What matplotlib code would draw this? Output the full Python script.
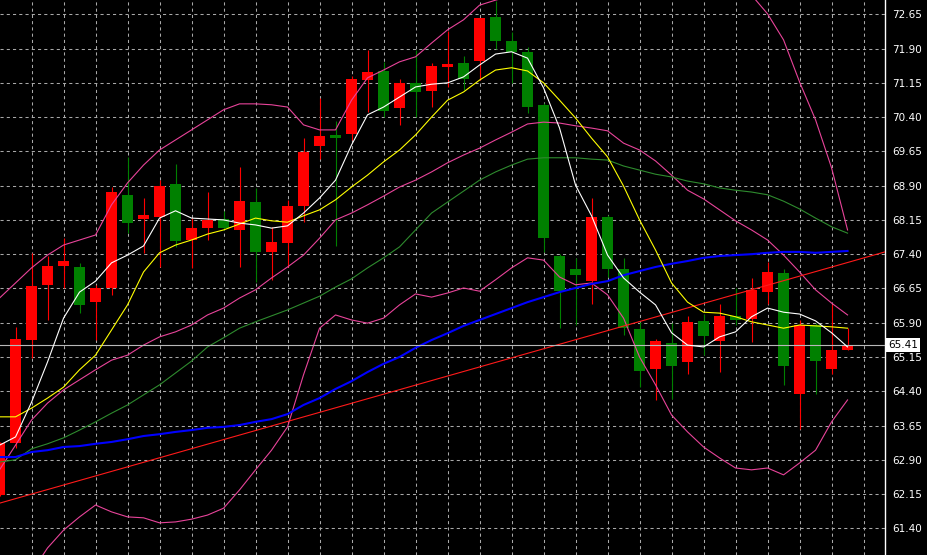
import numpy as np
import matplotlib
matplotlib.use("Agg")
import matplotlib.pyplot as plt

# Mum verileri (acilis, yuksek, dusuk, kapanis)
acilis = [62.13, 63.27, 65.53, 66.73, 67.14, 67.13, 66.36, 66.65, 68.70, 68.16,
          68.22, 68.94, 67.71, 67.98, 68.17, 67.94, 68.55, 67.45, 67.64, 68.46,
          69.77, 70.01, 70.02, 71.21, 71.42, 70.61, 71.14, 70.97, 71.49, 71.59,
          71.63, 72.60, 72.07, 71.83, 70.66, 67.36, 67.07, 66.81, 68.21, 67.07,
          65.76, 64.89, 65.45, 65.03, 65.94, 65.51, 66.05, 65.98, 66.58, 66.99,
          64.35, 65.85, 64.89, 65.30]
yuksek = [63.30, 65.81, 67.43, 67.35, 67.75, 67.20, 66.72, 68.88, 69.53, 68.64,
          69.02, 69.37, 68.19, 68.75, 68.35, 69.31, 68.84, 68.00, 68.59, 69.94,
          70.82, 70.31, 71.30, 71.87, 71.61, 71.23, 71.87, 71.58, 72.28, 71.74,
          72.56, 72.95, 72.27, 71.94, 70.70, 67.40, 67.31, 68.62, 68.25, 67.32,
          65.92, 65.54, 65.89, 66.05, 66.08, 66.32, 66.65, 66.87, 67.23, 67.07,
          65.96, 65.89, 66.32, 65.78]
dusuk = [62.10, 63.16, 65.12, 65.96, 66.66, 66.11, 65.52, 66.51, 67.86, 67.42,
         67.13, 67.56, 67.09, 67.71, 67.93, 67.13, 66.80, 66.83, 67.13, 68.11,
         69.48, 67.58, 69.90, 70.52, 70.41, 70.23, 70.40, 70.63, 71.05, 70.99,
         71.21, 71.88, 71.14, 70.48, 67.45, 65.78, 65.86, 66.32, 66.90, 65.63,
         64.50, 64.21, 64.23, 64.77, 65.19, 64.83, 65.85, 65.48, 66.32, 64.54,
         63.57, 64.35, 64.77, 65.30]
kapanis = [63.26, 65.54, 66.70, 67.15, 67.25, 66.29, 66.65, 68.75, 68.09, 68.26,
           68.89, 67.69, 67.97, 68.15, 67.98, 68.57, 67.45, 67.67, 68.46, 69.63,
           69.99, 69.95, 71.23, 71.39, 70.53, 71.15, 70.96, 71.52, 71.56, 71.23,
           72.56, 72.07, 71.82, 70.63, 67.76, 66.60, 66.94, 68.21, 67.07, 65.78,
           64.85, 65.50, 64.96, 65.91, 65.62, 66.05, 65.96, 66.62, 67.01, 64.96,
           65.85, 65.06, 65.30, 65.41]

# Hareketli ortalamalar
ma_beyaz = [63.22, 63.40, 64.16, 65.04, 66.00, 66.57, 66.81, 67.21, 67.38, 67.58,
            68.19, 68.35, 68.19, 68.17, 68.15, 68.08, 68.04, 67.97, 68.02, 68.30,
            68.63, 69.02, 69.79, 70.45, 70.62, 70.84, 71.06, 71.12, 71.15, 71.28,
            71.54, 71.78, 71.83, 71.69, 71.04, 70.16, 68.91, 68.24, 67.38, 66.88,
            66.57, 66.29, 65.68, 65.41, 65.37, 65.59, 65.70, 66.03, 66.22, 66.13,
            66.09, 65.94, 65.68, 65.37]
ma_sari = [63.84, 63.84, 64.03, 64.25, 64.49, 64.87, 65.19, 65.74, 66.29, 67.01,
           67.43, 67.60, 67.71, 67.84, 67.93, 68.06, 68.19, 68.13, 68.10, 68.24,
           68.37, 68.59, 68.87, 69.13, 69.42, 69.68, 70.01, 70.40, 70.77, 70.95,
           71.21, 71.43, 71.48, 71.41, 71.15, 70.77, 70.38, 69.94, 69.53, 68.89,
           68.15, 67.49, 66.77, 66.35, 66.13, 66.11, 66.03, 65.92, 65.85, 65.78,
           65.85, 65.83, 65.81, 65.78]
ma_yesil = [62.85, 62.90, 63.14, 63.25, 63.38, 63.55, 63.73, 63.92, 64.10, 64.32,
            64.54, 64.80, 65.06, 65.37, 65.57, 65.78, 65.92, 66.05, 66.18, 66.33,
            66.48, 66.68, 66.86, 67.10, 67.32, 67.56, 67.93, 68.30, 68.54, 68.78,
            69.02, 69.20, 69.35, 69.48, 69.51, 69.51, 69.51, 69.48, 69.46, 69.33,
            69.24, 69.15, 69.09, 69.00, 68.94, 68.85, 68.80, 68.76, 68.70, 68.56,
            68.39, 68.19, 68.00, 67.86]
ma_mavi = [62.96, 62.96, 63.07, 63.11, 63.18, 63.20, 63.25, 63.29, 63.35, 63.42,
           63.46, 63.51, 63.55, 63.60, 63.62, 63.66, 63.73, 63.79, 63.90, 64.10,
           64.25, 64.45, 64.62, 64.82, 65.00, 65.15, 65.35, 65.52, 65.67, 65.83,
           65.96, 66.09, 66.22, 66.35, 66.46, 66.57, 66.66, 66.75, 66.81, 66.94,
           67.03, 67.12, 67.19, 67.25, 67.32, 67.36, 67.38, 67.40, 67.43, 67.45,
           67.45, 67.43, 67.45, 67.47]

# Bollinger bantlari
bb_ust = [66.44, 66.77, 67.10, 67.38, 67.60, 67.71, 67.82, 68.48, 68.96, 69.35,
          69.68, 69.90, 70.12, 70.34, 70.56, 70.69, 70.69, 70.67, 70.62, 70.23,
          70.12, 70.12, 70.77, 71.26, 71.43, 71.61, 71.72, 72.02, 72.31, 72.53,
          72.85, 72.96, 73.05, 73.18, 73.31, 73.64, 73.69, 73.55, 73.69, 73.66,
          74.21, 74.34, 74.39, 74.10, 74.04, 73.79, 73.53, 73.07, 72.66, 72.09,
          71.17, 70.34, 69.29, 67.93]
bb_orta = [62.68, 63.22, 63.77, 64.14, 64.43, 64.65, 64.87, 65.08, 65.19, 65.41,
           65.59, 65.70, 65.85, 66.07, 66.22, 66.44, 66.62, 66.88, 67.12, 67.38,
           67.75, 68.15, 68.30, 68.48, 68.67, 68.87, 69.02, 69.20, 69.40, 69.57,
           69.72, 69.90, 70.07, 70.25, 70.29, 70.27, 70.21, 70.16, 70.10, 69.83,
           69.68, 69.44, 69.13, 68.80, 68.61, 68.37, 68.13, 67.93, 67.71, 67.38,
           67.01, 66.62, 66.33, 66.07]
bb_alt = [58.91, 59.68, 60.44, 60.97, 61.36, 61.65, 61.91, 61.76, 61.65, 61.63,
          61.52, 61.54, 61.60, 61.69, 61.84, 62.24, 62.68, 63.11, 63.62, 64.76,
          65.78, 66.07, 65.96, 65.89, 66.00, 66.29, 66.53, 66.46, 66.55, 66.66,
          66.59, 66.84, 67.10, 67.32, 67.27, 66.90, 66.73, 66.77, 66.51, 66.00,
          65.15, 64.54, 63.88, 63.51, 63.18, 62.94, 62.72, 62.68, 62.72, 62.57,
          62.83, 63.11, 63.73, 64.21]

# Trend cizgisi (iki nokta) ve son fiyat
trend_x = [0.0, 55.34]
trend_y = [61.95, 67.45]
son_fiyat = 65.41

fiyat_etiketleri = [61.40, 62.15, 62.90, 63.65, 64.40, 65.15, 65.90, 66.65,
                    67.40, 68.15, 68.90, 69.65, 70.40, 71.15, 71.90, 72.65]


def mumlari_ciz(ax):
    x = np.arange(len(acilis))
    o = np.array(acilis)
    c = np.array(kapanis)
    renk = np.where(c >= o, '#ff0000', '#008000')  # yukselen kirmizi, dusen yesil
    alt = np.minimum(o, c)
    boy = np.maximum(np.abs(c - o), 0.025)
    ax.vlines(x, dusuk, yuksek, colors=renk, linewidth=0.8, zorder=2)
    ax.bar(x, boy, bottom=alt, width=0.69, color=renk, linewidth=0, zorder=3)


fig = plt.figure(figsize=(9.27, 5.55), dpi=100, facecolor='black')
ax = fig.add_axes([0, 0, 885 / 927, 1])
ax.set_facecolor('black')

ax.set_xlim(0.03, 55.34)
ax.set_ylim(60.816, 72.963)

# Izgara
ax.set_yticks(fiyat_etiketleri)
ax.set_yticklabels([f"{v:.2f}" for v in fiyat_etiketleri])
ax.set_xticks(np.arange(2, 55, 2))
ax.grid(True, color='#a8a8a8', linestyle=(0, (3, 3)), linewidth=0.75, zorder=0)
ax.set_axisbelow(True)

mumlari_ciz(ax)

x = np.arange(len(acilis))
ax.plot(x, bb_ust, color='#e8449a', linewidth=0.8, zorder=4)
ax.plot(x, bb_orta, color='#e8449a', linewidth=0.8, zorder=4)
ax.plot(x, bb_alt, color='#e8449a', linewidth=0.8, zorder=4)
ax.plot(x, ma_yesil, color='#2e8b2e', linewidth=0.8, zorder=4)
ax.plot(x, ma_mavi, color='#0000ff', linewidth=1.5, zorder=4)
ax.plot(x, ma_sari, color='#ffff00', linewidth=0.8, zorder=5)
ax.plot(x, ma_beyaz, color='#ffffff', linewidth=0.8, zorder=5)
ax.axline((trend_x[0], trend_y[0]), (trend_x[1], trend_y[1]), color='#ff1a1a', linewidth=0.8, zorder=4)

# Son fiyat cizgisi ve etiketi
ax.axhline(son_fiyat, color='#b8b8b8', linewidth=0.8, zorder=4)
ax.text(1.004, son_fiyat, f"{son_fiyat:.2f}", transform=ax.get_yaxis_transform(),
        ha='left', va='center', color='black', fontsize=7.5, clip_on=False,
        bbox=dict(boxstyle='square,pad=0.2', facecolor='white', edgecolor='none'), zorder=10)

# Eksenler
ax.yaxis.tick_right()
ax.tick_params(axis='y', colors='white', labelsize=7.5, length=0, pad=5)
ax.tick_params(axis='x', length=0, labelbottom=False)
for kenar in ['left', 'top', 'bottom']:
    ax.spines[kenar].set_visible(False)
ax.spines['right'].set_color('white')
ax.spines['right'].set_linewidth(1.0)

fig.savefig('out.png', dpi=100, facecolor='black')
